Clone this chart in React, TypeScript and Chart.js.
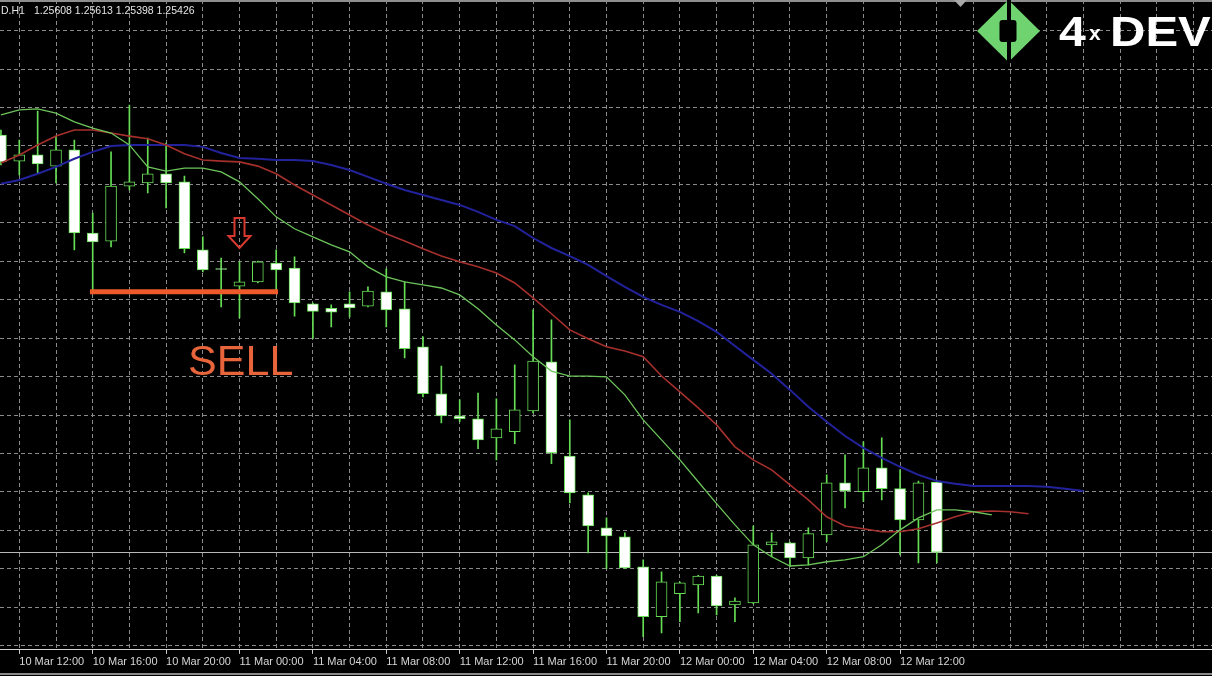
import React, { useEffect, useRef } from 'react';
import { Chart, registerables } from 'chart.js';

Chart.register(...registerables);

// ---- Data (H1 bars, index 0 = 10 Mar 11:00) ----
const OPEN = [
  1.26511, 1.26443, 1.26459, 1.26430, 1.26472, 1.26256, 1.26235, 1.26378, 1.26386, 1.26410,
  1.26389, 1.26212, 1.26163, 1.26118, 1.26129, 1.26178, 1.26165, 1.26072, 1.26060, 1.26072,
  1.26066, 1.26103, 1.26059, 1.25960, 1.25838, 1.25780, 1.25773, 1.25723, 1.25739, 1.25793,
  1.25921, 1.25676, 1.25575, 1.25489, 1.25466, 1.25388, 1.25258, 1.25318, 1.25341, 1.25364,
  1.25289, 1.25294, 1.25445, 1.25450, 1.25411, 1.25471, 1.25606, 1.25583, 1.25645, 1.25591,
  1.25510, 1.25608,
];
const HIGH = [
  1.26524, 1.26498, 1.26573, 1.26506, 1.26498, 1.26308, 1.26467, 1.26589, 1.26503, 1.26490,
  1.26404, 1.26246, 1.26191, 1.26181, 1.26183, 1.26212, 1.26194, 1.26074, 1.26069, 1.26103,
  1.26116, 1.26163, 1.26129, 1.25986, 1.25910, 1.25822, 1.25840, 1.25825, 1.25913, 1.26056,
  1.26030, 1.25770, 1.25580, 1.25515, 1.25476, 1.25406, 1.25375, 1.25348, 1.25366, 1.25366,
  1.25307, 1.25494, 1.25476, 1.25452, 1.25489, 1.25627, 1.25679, 1.25713, 1.25723, 1.25640,
  1.25611, 1.25613,
];
const LOW = [
  1.26433, 1.26407, 1.26412, 1.26386, 1.26212, 1.26100, 1.26220, 1.26368, 1.26360, 1.26321,
  1.26204, 1.26155, 1.26064, 1.26035, 1.26126, 1.26100, 1.26040, 1.25981, 1.26012, 1.26038,
  1.26064, 1.26012, 1.25931, 1.25830, 1.25762, 1.25765, 1.25695, 1.25666, 1.25708, 1.25788,
  1.25656, 1.25554, 1.25424, 1.25383, 1.25383, 1.25206, 1.25216, 1.25245, 1.25268, 1.25263,
  1.25245, 1.25292, 1.25414, 1.25388, 1.25393, 1.25453, 1.25541, 1.25557, 1.25562, 1.25419,
  1.25398, 1.25398,
];
const CLOSE = [
  1.26441, 1.26459, 1.26436, 1.26472, 1.26256, 1.26233, 1.26378, 1.26389, 1.26410, 1.26386,
  1.26215, 1.26160, 1.26161, 1.26129, 1.26181, 1.26160, 1.26074, 1.26052, 1.26050, 1.26061,
  1.26105, 1.26056, 1.25955, 1.25838, 1.25780, 1.25773, 1.25718, 1.25747, 1.25796, 1.25923,
  1.25684, 1.25580, 1.25494, 1.25468, 1.25385, 1.25258, 1.25349, 1.25346, 1.25364, 1.25286,
  1.25299, 1.25445, 1.25453, 1.25411, 1.25474, 1.25606, 1.25585, 1.25645, 1.25591, 1.25510,
  1.25606, 1.25426,
];

// Alligator lines (jaw shifted 8 bars, teeth 5, lips 3)
const JAW = [
  1.26384, 1.26394, 1.26410, 1.26428, 1.26449, 1.26467, 1.26482, 1.26485, 1.26485, 1.26485,
  1.26485, 1.26480, 1.26464, 1.26451, 1.26449, 1.26446, 1.26446, 1.26443, 1.26433, 1.26420,
  1.26402, 1.26384, 1.26368, 1.26355, 1.26342, 1.26329, 1.26311, 1.26290, 1.26274, 1.26243,
  1.26217, 1.26196, 1.26173, 1.26144, 1.26116, 1.26090, 1.26069, 1.26051, 1.26027, 1.25999,
  1.25962, 1.25926, 1.25890, 1.25848, 1.25804, 1.25765, 1.25728, 1.25697, 1.25671, 1.25648,
  1.25627, 1.25611, 1.25604, 1.25598, 1.25598, 1.25598, 1.25598, 1.25596, 1.25591, 1.25585,
];
const TEETH = [
  1.26438, 1.26459, 1.26485, 1.26508, 1.26524, 1.26524, 1.26516, 1.26508, 1.26501, 1.26485,
  1.26462, 1.26446, 1.26443, 1.26441, 1.26430, 1.26410, 1.26381, 1.26355, 1.26329, 1.26303,
  1.26277, 1.26254, 1.26235, 1.26215, 1.26196, 1.26181, 1.26168, 1.26152, 1.26126, 1.26087,
  1.26046, 1.26004, 1.25981, 1.25960, 1.25949, 1.25934, 1.25884, 1.25843, 1.25801, 1.25757,
  1.25700, 1.25666, 1.25640, 1.25601, 1.25562, 1.25518, 1.25494, 1.25487, 1.25479, 1.25479,
  1.25487, 1.25502, 1.25518, 1.25531, 1.25533, 1.25531, 1.25526,
];
const LIPS = [
  1.26563, 1.26576, 1.26579, 1.26568, 1.26545, 1.26529, 1.26516, 1.26485, 1.26428, 1.26417,
  1.26425, 1.26425, 1.26415, 1.26389, 1.26345, 1.26298, 1.26267, 1.26246, 1.26225, 1.26207,
  1.26168, 1.26142, 1.26129, 1.26121, 1.26113, 1.26095, 1.26059, 1.26017, 1.25978, 1.25934,
  1.25897, 1.25884, 1.25884, 1.25882, 1.25835, 1.25770, 1.25718, 1.25666, 1.25609, 1.25552,
  1.25497, 1.25445, 1.25414, 1.25390, 1.25393, 1.25401, 1.25406, 1.25414, 1.25445, 1.25484,
  1.25515, 1.25536, 1.25536, 1.25531, 1.25523,
];

const TIME_LABELS = [
  '10 Mar 12:00', '10 Mar 16:00', '10 Mar 20:00', '11 Mar 00:00', '11 Mar 04:00',
  '11 Mar 08:00', '11 Mar 12:00', '11 Mar 16:00', '11 Mar 20:00', '12 Mar 00:00',
  '12 Mar 04:00', '12 Mar 08:00', '12 Mar 12:00',
];
const FIRST_LABEL_BAR = 1;
const BARS_PER_LABEL = 4;

const HEADER_SYMBOL = 'D.H1';
const HEADER_PRICES = ['1.25608', '1.25613', '1.25398', '1.25426'];

// Annotations
const SELL_LEVEL = 1.26103;
const SELL_FROM_BAR = 4.85;
const SELL_TO_BAR = 15.1;
const ARROW_BAR = 13;
const ARROW_TOP = 1.26295;
const ARROW_BOTTOM = 1.26217;
const SELL_TEXT = 'SELL';
const SELL_TEXT_BAR = 10.2;
const SELL_TEXT_PRICE = 1.25887;
const LOGO_NUM = '4';
const LOGO_X = 'x';
const LOGO_WORD = 'DEV';

// Axis ranges / grid
const X_MIN = -0.052;
const X_MAX = 65.998;
const Y_MIN = 1.25172;
const Y_MAX = 1.26862;
const GRID_ANCHOR = 1.265825;
const GRID_STEP = 0.001;

const CANDLE_GREEN = '#66dd55';

const overlayPlugin = {
  id: 'mtOverlay',
  beforeDraw(chart: any) {
    const { ctx, width, height } = chart;
    ctx.save();
    ctx.fillStyle = '#000000';
    ctx.fillRect(0, 0, width, height);
    ctx.restore();
  },
  beforeDatasetsDraw(chart: any) {
    const { ctx, chartArea, scales } = chart;
    const y = Math.round(scales.y.getPixelForValue(CLOSE[CLOSE.length - 1])) + 0.5;
    ctx.save();
    ctx.strokeStyle = '#b8b8b8';
    ctx.lineWidth = 1;
    ctx.beginPath();
    ctx.moveTo(chartArea.left, y);
    ctx.lineTo(chartArea.right, y);
    ctx.stroke();
    ctx.restore();
  },
  afterDatasetsDraw(chart: any) {
    const { ctx, scales } = chart;
    const xs = scales.x;
    const ys = scales.y;
    // red hollow down arrow
    const cx = xs.getPixelForValue(ARROW_BAR);
    const yt = ys.getPixelForValue(ARROW_TOP);
    const yb = ys.getPixelForValue(ARROW_BOTTOM);
    const neck = yt + (yb - yt) * 0.6;
    ctx.save();
    ctx.strokeStyle = '#d8392f';
    ctx.lineWidth = 2;
    ctx.lineJoin = 'miter';
    ctx.beginPath();
    ctx.moveTo(cx - 5, yt);
    ctx.lineTo(cx + 5, yt);
    ctx.lineTo(cx + 5, neck);
    ctx.lineTo(cx + 11, neck);
    ctx.lineTo(cx, yb);
    ctx.lineTo(cx - 11, neck);
    ctx.lineTo(cx - 5, neck);
    ctx.closePath();
    ctx.stroke();
    // SELL text
    ctx.fillStyle = '#e8643a';
    ctx.font = '43px "Liberation Sans", Arial, sans-serif';
    ctx.textBaseline = 'alphabetic';
    ctx.textAlign = 'left';
    ctx.fillText(SELL_TEXT, xs.getPixelForValue(SELL_TEXT_BAR), ys.getPixelForValue(SELL_TEXT_PRICE));
    ctx.restore();
  },
  afterDraw(chart: any) {
    const { ctx, width } = chart;
    ctx.save();
    // top frame strip
    ctx.fillStyle = '#8e8e8e';
    ctx.fillRect(0, 0, width, 2);
    // chart-shift marker
    ctx.fillStyle = '#a8a8a8';
    ctx.beginPath();
    ctx.moveTo(954, 0);
    ctx.lineTo(967, 0);
    ctx.lineTo(960.5, 7);
    ctx.closePath();
    ctx.fill();
    // bottom frame line
    ctx.fillStyle = '#8a8a8a';
    ctx.fillRect(0, 673, width, 2);
    // header text
    ctx.fillStyle = '#e4e4e4';
    ctx.font = '10.5px "Liberation Sans", Arial, sans-serif';
    ctx.textBaseline = 'alphabetic';
    ctx.textAlign = 'left';
    ctx.fillText(HEADER_SYMBOL, 1, 14);
    ctx.fillText(HEADER_PRICES.join(' '), 34, 14);
    // logo diamond
    const lx = 1008.5;
    const ly = 31;
    ctx.fillStyle = '#6fd36f';
    ctx.beginPath();
    ctx.moveTo(lx, ly - 31);
    ctx.lineTo(lx + 31.5, ly);
    ctx.lineTo(lx, ly + 31);
    ctx.lineTo(lx - 31.5, ly);
    ctx.closePath();
    ctx.fill();
    ctx.fillStyle = '#000000';
    ctx.fillRect(lx - 1.5, ly - 31, 4, 62);
    ctx.beginPath();
    if ((ctx as any).roundRect) {
      (ctx as any).roundRect(lx - 9, ly - 11, 17, 22, 3);
    } else {
      ctx.rect(lx - 9, ly - 11, 17, 22);
    }
    ctx.fill();
    // logo text (wide heavy lettering)
    ctx.fillStyle = '#ffffff';
    ctx.font = 'bold 43px "Liberation Sans", Arial, sans-serif';
    ctx.save();
    ctx.translate(1059, 46);
    ctx.scale(1.12, 1);
    ctx.fillText(LOGO_NUM, 0, 0);
    ctx.restore();
    ctx.font = 'bold 21px "Liberation Sans", Arial, sans-serif';
    ctx.fillText(LOGO_X, 1089, 40);
    ctx.font = 'bold 43px "Liberation Sans", Arial, sans-serif';
    ctx.save();
    ctx.translate(1110, 46);
    ctx.scale(1.14, 1);
    ctx.fillText(LOGO_WORD, 0, 0);
    ctx.restore();
    ctx.restore();
  },
};

export default function App() {
  const canvasRef = useRef<HTMLCanvasElement | null>(null);

  useEffect(() => {
    const canvas = canvasRef.current;
    if (!canvas) return;

    const wicks = HIGH.map((h, i) => ({ x: i, y: [LOW[i], h] }));
    const bodies = OPEN.map((o, i) => ({ x: i, y: [Math.min(o, CLOSE[i]), Math.max(o, CLOSE[i])] }));
    const bodyColors = OPEN.map((o, i) => (CLOSE[i] < o ? '#ffffff' : '#000000'));

    const isLabeledBar = (v: number) => {
      const i = Math.round(v);
      return (i - FIRST_LABEL_BAR) % BARS_PER_LABEL === 0 && TIME_LABELS[(i - FIRST_LABEL_BAR) / BARS_PER_LABEL] !== undefined;
    };

    const chart = new Chart(canvas, {
      type: 'bar',
      data: {
        datasets: [
          {
            type: 'line',
            label: 'SELL level',
            data: [
              { x: SELL_FROM_BAR, y: SELL_LEVEL },
              { x: SELL_TO_BAR, y: SELL_LEVEL },
            ],
            borderColor: '#ee5a2a',
            borderWidth: 5,
            borderCapStyle: 'butt',
            pointRadius: 0,
            fill: false,
            order: 0,
          } as any,
          {
            type: 'line',
            label: 'Lips',
            data: LIPS.map((v, i) => ({ x: i, y: v })),
            borderColor: '#6cc45a',
            borderWidth: 1.3,
            pointRadius: 0,
            fill: false,
            tension: 0,
            order: 1,
          } as any,
          {
            type: 'line',
            label: 'Teeth',
            data: TEETH.map((v, i) => ({ x: i, y: v })),
            borderColor: '#a5302c',
            borderWidth: 1.6,
            pointRadius: 0,
            fill: false,
            tension: 0,
            order: 2,
          } as any,
          {
            type: 'line',
            label: 'Jaw',
            data: JAW.map((v, i) => ({ x: i, y: v })),
            borderColor: '#22229c',
            borderWidth: 2,
            pointRadius: 0,
            fill: false,
            tension: 0,
            order: 3,
          } as any,
          {
            type: 'bar',
            label: 'Body',
            data: bodies,
            backgroundColor: bodyColors,
            borderColor: CANDLE_GREEN,
            borderWidth: 1,
            borderSkipped: false,
            barThickness: 11,
            minBarLength: 1,
            grouped: false,
            order: 5,
          } as any,
          {
            type: 'bar',
            label: 'Wick',
            data: wicks,
            backgroundColor: CANDLE_GREEN,
            borderWidth: 0,
            barThickness: 1,
            grouped: false,
            order: 6,
          } as any,
        ],
      },
      options: {
        responsive: false,
        animation: false,
        devicePixelRatio: 1,
        events: [],
        layout: { padding: { left: 0, right: 0, top: 0, bottom: 5 } },
        plugins: {
          legend: { display: false },
          tooltip: { enabled: false },
          title: { display: false },
        },
        scales: {
          x: {
            type: 'linear',
            position: 'bottom',
            min: X_MIN,
            max: X_MAX,
            offset: false,
            afterBuildTicks: (scale: any) => {
              const t = [];
              for (let i = 1; i <= Math.floor(X_MAX); i += 2) t.push({ value: i });
              scale.ticks = t;
            },
            ticks: {
              color: '#d6d6d6',
              font: { family: '"Liberation Sans", Arial, sans-serif', size: 11 },
              align: 'start',
              padding: 2,
              autoSkip: false,
              maxRotation: 0,
              minRotation: 0,
              callback: (value: any) => {
                const i = Math.round(Number(value));
                if (!isLabeledBar(i)) return '';
                return TIME_LABELS[(i - FIRST_LABEL_BAR) / BARS_PER_LABEL];
              },
            },
            grid: {
              color: '#8a8a8a',
              lineWidth: 1,
              offset: false,
              drawTicks: true,
              tickLength: 4,
              tickColor: (ctx: any) => (ctx.tick && isLabeledBar(ctx.tick.value) ? '#d0d0d0' : 'rgba(0,0,0,0)'),
              tickBorderDash: [],
            },
            border: { display: true, color: '#d4d4d4', width: 1, dash: [4, 3] },
          } as any,
          y: {
            type: 'linear',
            position: 'left',
            min: Y_MIN,
            max: Y_MAX,
            beginAtZero: false,
            afterBuildTicks: (scale: any) => {
              const t = [];
              for (let k = -10; k <= 30; k++) {
                const v = GRID_ANCHOR - k * GRID_STEP;
                if (v >= scale.min && v <= scale.max) t.push({ value: v });
              }
              scale.ticks = t;
            },
            ticks: { display: false },
            grid: { color: '#8a8a8a', lineWidth: 1, drawTicks: false },
            border: { display: false, dash: [4, 3] },
          } as any,
        },
      } as any,
      plugins: [overlayPlugin],
    });

    return () => {
      chart.destroy();
    };
  }, []);

  return (
    <div
      style={{
        position: 'fixed',
        left: 0,
        top: 0,
        width: 1212,
        height: 676,
        background: '#000',
        overflow: 'hidden',
      }}
    >
      <canvas ref={canvasRef} width={1212} height={676} style={{ display: 'block', width: 1212, height: 676 }} />
    </div>
  );
}
